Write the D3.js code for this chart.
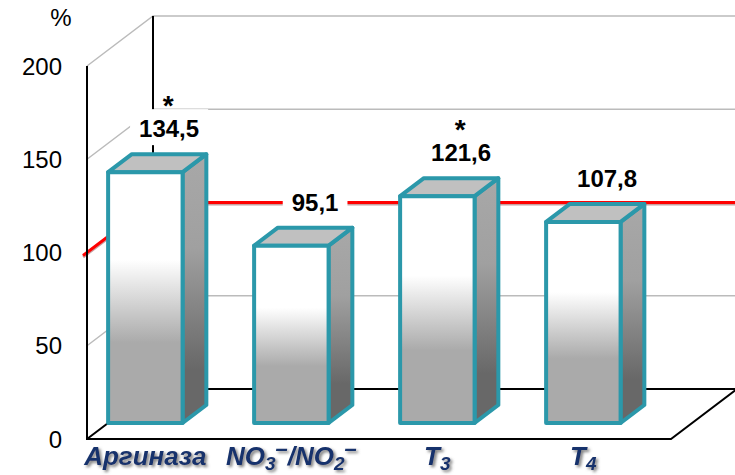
<!DOCTYPE html>
<html>
<head>
<meta charset="utf-8">
<script src="https://cdn.jsdelivr.net/npm/d3@7"></script>
<style>
  body { margin: 0; background: #fff; }
  svg { display: block; font-family: "Liberation Sans", Arial, sans-serif; }
</style>
</head>
<body>
<div id="chart"></div>
<script>
// data
const categories = ["Аргиназа", "NO3–/NO2–", "T3", "T4"];
const values = [134.5, 95.1, 121.6, 107.8];
const significant = [true, false, true, false];
const tickValues = [0, 50, 100, 150, 200];
const refLevel = 100;

const width = 735, height = 475;
const X0 = 87, Y0 = 439;           // front-left corner of the floor
const depth = {dx: 66, dy: -50};   // full depth offset of the box
const barFront = 0.32, barBack = 0.68;

const svg = d3.select('#chart').append('svg')
  .attr('width', width)
  .attr('height', height);

const defs = svg.append('defs');
const gFront = defs.append('linearGradient').attr('id', 'gFront')
  .attr('x1', 0).attr('y1', 0).attr('x2', 0).attr('y2', 1);
gFront.append('stop').attr('offset', '0%').attr('stop-color', '#ffffff');
gFront.append('stop').attr('offset', '35%').attr('stop-color', '#ffffff');
gFront.append('stop').attr('offset', '68%').attr('stop-color', '#aaaaaa');
gFront.append('stop').attr('offset', '100%').attr('stop-color', '#aaaaaa');

const gSide = defs.append('linearGradient').attr('id', 'gSide')
  .attr('x1', 0).attr('y1', 0).attr('x2', 0).attr('y2', 1);
gSide.append('stop').attr('offset', '0%').attr('stop-color', '#a8a8a8');
gSide.append('stop').attr('offset', '35%').attr('stop-color', '#a0a0a0');
gSide.append('stop').attr('offset', '80%').attr('stop-color', '#686868');
gSide.append('stop').attr('offset', '100%').attr('stop-color', '#686868');

const shadow = defs.append('filter').attr('id', 'shadow')
  .attr('x', '-10%').attr('y', '-20%').attr('width', '130%').attr('height', '150%');
shadow.append('feDropShadow').attr('dx', 2).attr('dy', 2)
  .attr('stdDeviation', 1.5).attr('flood-color', '#666').attr('flood-opacity', 0.85);

const y = d3.scaleLinear().domain([0, 200]).range([Y0, 66]);
const x = d3.scaleBand().domain(categories).range([X0, X0 + 584]).padding(0);
const barW = x.bandwidth() * 0.51;

// projected point: horizontal position, value, depth fraction
function P(xv, v, d) {
  return [xv + depth.dx * d, y(v) + depth.dy * d];
}
const line = d3.line();

const g = svg.append('g');

// back wall + side wall grid lines
tickValues.forEach(function(t) {
  let col = t === 0 ? '#000' : '#bbb';
  let w = t === 0 ? 2 : 1.5;
  if (t === refLevel) return;
  g.append('path')
    .attr('d', line([P(X0, t, 0), P(X0, t, 1), P(X0 + 584, t, 1)]))
    .attr('fill', 'none').attr('stroke', col).attr('stroke-width', w);
});

// reference line at 100 %
g.append('path')
  .attr('d', line([P(X0, refLevel, -0.06), P(X0, refLevel, 1), P(X0 + 600, refLevel, 1)]))
  .attr('fill', 'none').attr('stroke', '#c8a0a0').attr('stroke-width', 3)
  .attr('transform', 'translate(0,1.5)');
g.append('path')
  .attr('d', line([P(X0, refLevel, -0.06), P(X0, refLevel, 1), P(X0 + 600, refLevel, 1)]))
  .attr('fill', 'none').attr('stroke', '#ff0000').attr('stroke-width', 3);

// axis edges
g.append('path')
  .attr('d', line([P(X0, 200, 1), P(X0, 0, 1)]))
  .attr('fill', 'none').attr('stroke', '#000').attr('stroke-width', 2);
g.append('path')
  .attr('d', line([P(X0, 200, 0), P(X0, 0, 0), P(X0 + 584, 0, 0), P(X0 + 584, 0, 1)]))
  .attr('fill', 'none').attr('stroke', '#000').attr('stroke-width', 2);

// tick labels
g.selectAll('.tick')
  .data(tickValues)
  .enter().append('text')
  .attr('class', 'tick')
  .attr('x', 62)
  .attr('y', d => y(d) + 8.5)
  .attr('text-anchor', 'end')
  .style('font-size', '24px')
  .text(d => d);

svg.append('text')
  .attr('x', 61).attr('y', 26)
  .attr('text-anchor', 'middle')
  .style('font-size', '24px')
  .text('%');

// bars
const bars = g.selectAll('.bar')
  .data(categories.map((c, i) => ({c: c, v: values[i], sig: significant[i]})))
  .enter().append('g').attr('class', 'bar');

const strokeCol = '#2b98aa';
bars.append('path')
  .attr('d', d => {
    const xl = x(d.c), xr = xl + barW;
    return line([P(xr, 0, barFront), P(xr, 0, barBack), P(xr, d.v, barBack), P(xr, d.v, barFront)]) + 'Z';
  })
  .attr('fill', 'url(#gSide)').attr('stroke', strokeCol).attr('stroke-width', 4)
  .attr('stroke-linejoin', 'round');
bars.append('path')
  .attr('d', d => {
    const xl = x(d.c), xr = xl + barW;
    return line([P(xl, d.v, barFront), P(xr, d.v, barFront), P(xr, d.v, barBack), P(xl, d.v, barBack)]) + 'Z';
  })
  .attr('fill', '#c0c0c0').attr('stroke', strokeCol).attr('stroke-width', 4)
  .attr('stroke-linejoin', 'round');
bars.append('path')
  .attr('d', d => {
    const xl = x(d.c), xr = xl + barW;
    return line([P(xl, 0, barFront), P(xr, 0, barFront), P(xr, d.v, barFront), P(xl, d.v, barFront)]) + 'Z';
  })
  .attr('fill', 'url(#gFront)').attr('stroke', strokeCol).attr('stroke-width', 4)
  .attr('stroke-linejoin', 'round');

// value labels
const fmt = d3.formatLocale({decimal: ',', thousands: ' ', grouping: [3], currency: ['', '']}).format('.1f');
bars.each(function(d) {
  const sel = d3.select(this);
  const p = P(x(d.c) + barW / 2, d.v, barBack);
  const base = p[1] - 17;
  const t = sel.append('text')
    .attr('x', p[0]).attr('y', base)
    .attr('text-anchor', 'middle')
    .style('font-size', '24px').style('font-weight', 'bold')
    .text(fmt(d.v));
  const bb = t.node().getBBox();
  sel.insert('rect', 'text')
    .attr('x', bb.x - 9).attr('y', base - 28)
    .attr('width', bb.width + 18).attr('height', 36)
    .attr('fill', '#fff');
  if (d.sig) {
    sel.append('text')
      .attr('x', p[0] - 1).attr('y', base - 22)
      .attr('text-anchor', 'middle')
      .style('font-size', '28px').style('font-weight', 'bold')
      .text('*');
  }
});

// category labels: digits become subscripts, "–" a superscript
const cat = g.selectAll('.cat')
  .data(categories)
  .enter().append('text')
  .attr('class', 'cat')
  .attr('x', d => x(d) + barFront * depth.dx + barW / 2)
  .attr('y', 465)
  .attr('text-anchor', 'middle')
  .attr('fill', '#17326c')
  .attr('filter', 'url(#shadow)')
  .style('font-size', '26px').style('font-weight', 'bold').style('font-style', 'italic');

cat.each(function(d) {
  const el = d3.select(this);
  const parts = d.match(/[0-9]+|–|[^0-9–]+/g);
  let shift = 0;
  parts.forEach(function(s) {
    let target = 0, size = null;
    if (/^[0-9]+$/.test(s)) { target = 5; size = '19px'; }
    else if (s === '–') { target = -9; size = '22px'; }
    const ts = el.append('tspan').attr('dy', target - shift).text(s);
    if (size) ts.style('font-size', size);
    shift = target;
  });
});
</script>
</body>
</html>
